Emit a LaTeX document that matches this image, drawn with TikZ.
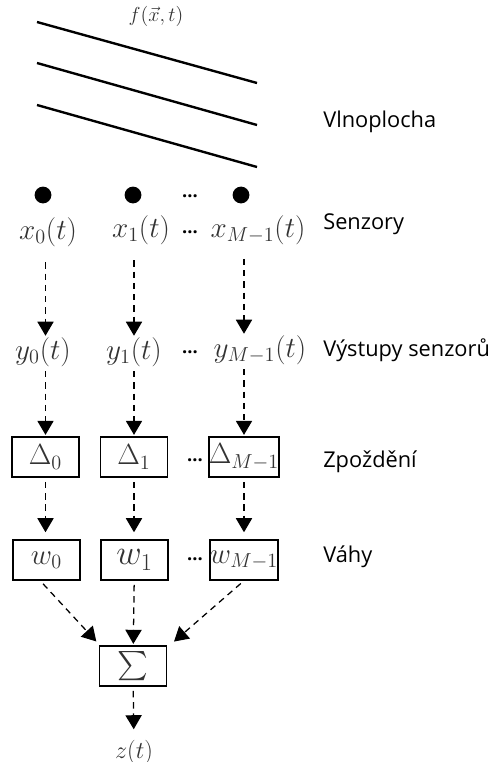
\documentclass[tikz,border=0pt]{standalone}
\usepackage{fontspec}
\usepackage{amsmath}
\usepackage{tikz}
\usetikzlibrary{arrows.meta, positioning}
\newfontfamily\labelfont{Open Sans}

\tikzset{
  sig/.style={text=black!80, font=\fontsize{21}{25}\selectfont, inner sep=1pt},
  blok/.style={draw, line width=1pt, minimum width=1.68cm, minimum height=1cm, inner sep=0pt, text=black!80, font=\fontsize{21}{25}\selectfont},
  senzor/.style={circle, fill=black, minimum size=0.42cm, inner sep=0pt},
  popis/.style={anchor=west, font=\labelfont\fontsize{15.5}{18}\selectfont, inner sep=0pt},
  tecky/.style={font=\labelfont\bfseries\fontsize{13}{15}\selectfont, inner sep=0pt},
  tok/.style={dashed, dash pattern=on 4.5pt off 3.5pt, line width=0.9pt, -{Triangle[width=11.5pt,length=10pt]}},
  vlna/.style={line width=1.7pt}
}

\begin{document}
\begin{tikzpicture}[x=0.025cm, y=-0.025cm]
\useasboundingbox (0,0) rectangle (488,762);

% vlnoplocha
\node[text=black!80, font=\fontsize{15}{18}\selectfont] (f) at (156,16) {$f(\vec{x},t)$};
\draw[vlna] (37,22) -- (257,83);
\draw[vlna] (37,63) -- (257,125);
\draw[vlna] (37,105) -- (257,167);

% senzory
\node[senzor] (s0) at (43,195) {};
\node[senzor] (s1) at (133,195) {};
\node[senzor] (s2) at (241,195) {};
\node[tecky] (ts) at (190,196) {...};

\node[sig] (x0) at (48,232) {$x_0(t)$};
\node[sig] (x1) at (141,230) {$x_1(t)$};
\node[sig] (x2) at (258,230) {$x_{M-1}(t)$};
\node[tecky] (tx) at (190,232) {...};

% vystupy
\node[sig] (y0) at (43,352) {$y_0(t)$};
\node[sig] (y1) at (134,352) {$y_1(t)$};
\node[sig] (y2) at (260,350) {$y_{M-1}(t)$};
\node[tecky] (ty) at (190,352) {...};

% zpozdeni
\node[blok] (d0) at (45.5,457) {$\Delta_0$};
\node[blok] (d1) at (134,457) {$\Delta_1$};
\node[blok] (d2) at (244,457) {$\Delta_{M-1}$};
\node[tecky] (td) at (195,460) {...};

% vahy
\node[blok] (w0) at (46.5,560) {$w_0$};
\node[blok, font=\fontsize{25}{28}\selectfont] (w1) at (134.5,560) {$w_1$};
\node[blok] (w2) at (244,560) {$w_{M-1}$};
\node[tecky] (tw) at (195,559) {...};

% suma
\node[blok, font=\fontsize{22}{26}\selectfont] (sum) at (133,666) {$\sum$};
\node[text=black!80, font=\fontsize{16}{19}\selectfont] (z) at (134,752) {$z(t)$};

% popisky
\node[popis] (l1) at (323,122) {Vlnoplocha};
\node[popis] (l2) at (323,224) {Senzory};
\node[popis] (l3) at (323,350) {Výstupy senzorů};
\node[popis] (l4) at (323,462) {Zpoždění};
\node[popis] (l5) at (323,557) {Váhy};

% toky
\draw[tok, shorten <=10pt] (x0.south -| d0.center) -- (y0.north -| d0.center);
\draw[tok, shorten <=10pt] (x1.south -| d1.center) -- (y1.north -| d1.center);
\draw[tok, shorten <=9pt] (x2.south -| d2.center) -- (y2.north -| d2.center);

\draw[tok, shorten <=2pt, shorten >=1pt] (y0.south -| d0.center) -- (d0.north);
\draw[tok, shorten <=2pt, shorten >=1pt] (y1.south -| d1.center) -- (d1.north);
\draw[tok, shorten <=2pt, shorten >=1pt] (y2.south -| d2.center) -- (d2.north);

\draw[tok, shorten <=3pt, shorten >=5pt] (d0) -- (w0.north -| d0.center);
\draw[tok, shorten <=3pt, shorten >=5pt] (d1) -- (w1.north -| d1.center);
\draw[tok, shorten <=3pt, shorten >=5pt] (d2) -- (w2.north -| d2.center);

\draw[tok, shorten <=3pt, shorten >=1pt] (w0.south west) ++(28,0) -- ([xshift=-1pt,yshift=2pt]sum.north west);
\draw[tok, shorten <=3pt, shorten >=1pt] (w1) -- (sum);
\draw[tok, shorten <=3pt, shorten >=1pt] (w2.south) -- ([xshift=4pt,yshift=2pt]sum.north east);

\draw[tok, shorten <=3pt, shorten >=4pt] (sum) -- (z);
\end{tikzpicture}
\end{document}
